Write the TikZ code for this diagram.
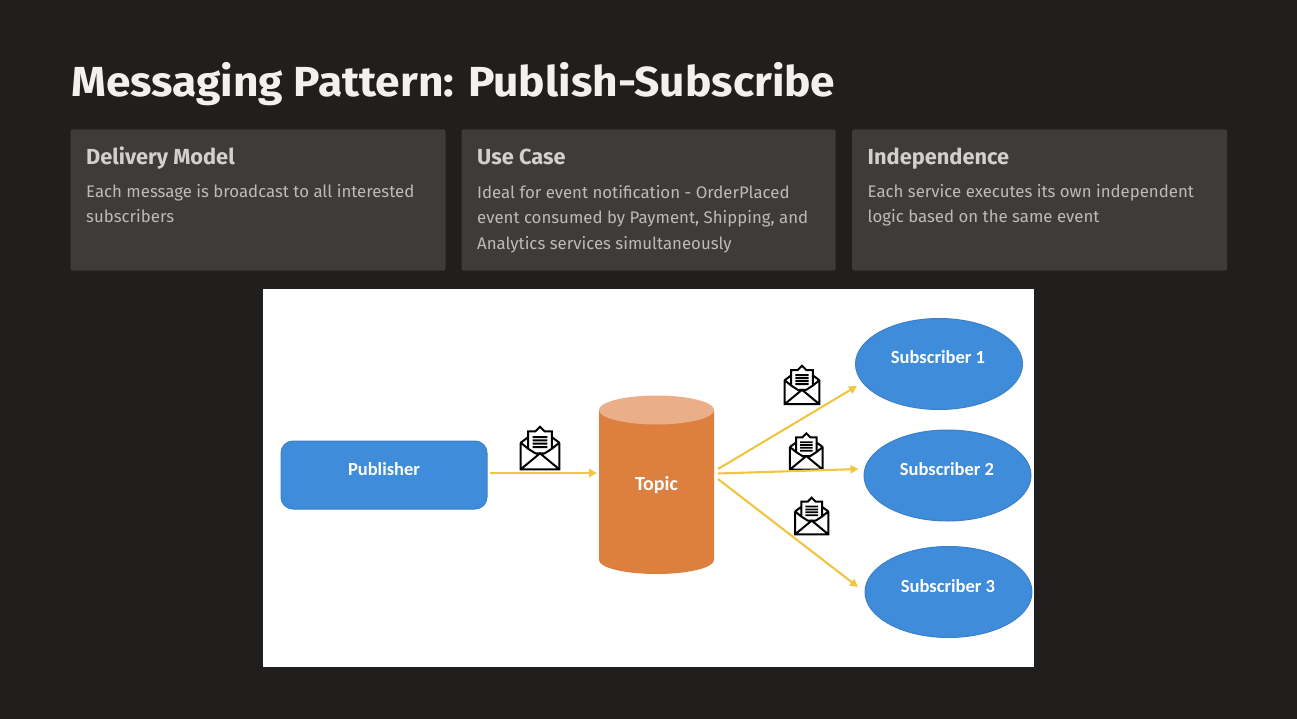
\documentclass[tikz,border=0pt]{standalone}
\usepackage{fontspec}
\setmainfont{Fira Sans}
\newfontfamily\diagfont{Carlito}
\newfontfamily\titlefont[FakeStretch=1.055]{Fira Sans}
\usetikzlibrary{shapes.geometric,arrows.meta}
\definecolor{bgdark}{HTML}{201F1E}
\definecolor{cardfill}{HTML}{3D3C3B}
\definecolor{cardhead}{HTML}{D2D0CE}
\definecolor{cardtext}{HTML}{BDBBB9}
\definecolor{titlecol}{HTML}{F3F1EF}
\definecolor{blueshape}{HTML}{3F8CDB}
\definecolor{blueedge}{HTML}{3D80C8}
\definecolor{orangebody}{HTML}{DD7F3F}
\definecolor{orangetop}{HTML}{EAAE88}
\definecolor{arrowcol}{HTML}{F0C540}
\tikzset{
  x=1pt,y=-1pt,
  card/.style={fill=cardfill,rounded corners=1.5pt,draw=none},
  cardhead/.style={anchor=base west,inner sep=0pt,text=cardhead,font=\fontsize{21.8}{25}\selectfont\bfseries},
  cardbody/.style={anchor=base west,inner sep=0pt,text=cardtext,align=left,font=\fontsize{16.8}{25.5}\selectfont},
  blueshape/.style={fill=blueshape,draw=blueedge,line width=1pt},
  sublabel/.style={inner sep=0pt,text=white,font=\diagfont\fontsize{18.5}{20}\selectfont\bfseries},
  flow/.style={draw=arrowcol,line width=2.1pt,-{Triangle[length=8pt,width=8pt]}},
  pics/envicon/.style={code={
    \draw[black,line width=2pt,line join=miter]
      (-58,-16)--(-58,64)--(58,64)--(58,-16)
      (-58,-16)--(-36,-32) (58,-16)--(36,-32)
      (-58,64)--(0,16)--(58,64)
      (-58,-16)--(-36,2) (58,-16)--(36,2)
      (-36,2)--(-36,-50)--(-14,-50)--(0,-64)--(14,-50)--(36,-50)--(36,2)
      (-36,2)--(-14,16)--(14,16)--(36,2);
    \fill[black] (-22,-36) rectangle (22,-30) (-22,-26) rectangle (22,-20)
      (-22,-16) rectangle (22,-10) (-22,-6) rectangle (22,0);
  }}
}
\begin{document}
\begin{tikzpicture}
\useasboundingbox (0,0) rectangle (1297,719);
\fill[bgdark] (0,0) rectangle (1297,719);
\node[anchor=base west,inner sep=0pt,text=titlecol,font=\titlefont\fontsize{42}{46}\selectfont\bfseries] (title) at (71,97) {Messaging Pattern: Publish-Subscribe};

\fill[card] (70.5,129.5) rectangle (445.5,270.5);
\fill[card] (461.5,129.5) rectangle (835.5,270.5);
\fill[card] (852,129.5) rectangle (1227,270.5);

\node[cardhead] (h1) at (86,165) {Delivery Model};
\node[cardbody] (b1) at (86,223) {Each message is broadcast to all interested\\subscribers};
\node[cardhead] (h2) at (477,165) {Use Case};
\node[cardbody] (b2) at (477,249) {Ideal for event notification - OrderPlaced\\event consumed by Payment, Shipping, and\\Analytics services simultaneously};
\node[cardhead] (h3) at (867.5,165) {Independence};
\node[cardbody] (b3) at (867.5,223) {Each service executes its own independent\\logic based on the same event};

\fill[white] (263,289) rectangle (1034,667);

\node[blueshape,rounded corners=12pt,minimum width=206pt,minimum height=68pt,inner sep=0pt] (pub) at (384,475) {};
\node[sublabel] (publabel) at (384,469) {Publisher};

\fill[orangebody] (599,410) -- (599,560) arc[start angle=180,end angle=360,x radius=57.5pt,y radius=14pt] -- (714,410) -- cycle;
\fill[orangetop] (656.5,410) ellipse[x radius=57.5pt,y radius=14.5pt];
\node[sublabel,font=\diagfont\fontsize{20}{22}\selectfont\bfseries] (topic) at (656.5,485) {Topic};

\node[ellipse,blueshape,minimum width=167pt,minimum height=91pt,inner sep=0pt] (s1) at (939,364) {};
\node[sublabel] (s1l) at (938,357.5) {Subscriber 1};
\node[ellipse,blueshape,minimum width=167pt,minimum height=91pt,inner sep=0pt] (s2) at (947.5,475.5) {};
\node[sublabel] (s2l) at (947,469.5) {Subscriber 2};
\node[ellipse,blueshape,minimum width=167pt,minimum height=91pt,inner sep=0pt] (s3) at (948.5,592) {};
\node[sublabel] (s3l) at (948,586) {Subscriber 3};

\coordinate (pubout) at (489.5,473);
\coordinate (topicin) at (597,473);
\coordinate (topicout1) at (718,469);
\coordinate (topicout2) at (718,473.5);
\coordinate (topicout3) at (718,479);
\coordinate (s1in) at (857,386);
\coordinate (s2in) at (858.5,469);
\coordinate (s3in) at (858,587);

\pic[scale=0.333] (env0) at (540,448) {envicon};
\pic[scale=0.30] (env1) at (802,385) {envicon};
\pic[scale=0.283] (env2) at (806.3,451.5) {envicon};
\pic[scale=0.287] (env3) at (811.7,516) {envicon};

\draw[flow] (pubout) -- (topicin);
\draw[flow] (topicout1) -- (s1in);
\draw[flow] (topicout2) -- (s2in);
\draw[flow] (topicout3) -- (s3in);
\end{tikzpicture}
\end{document}
